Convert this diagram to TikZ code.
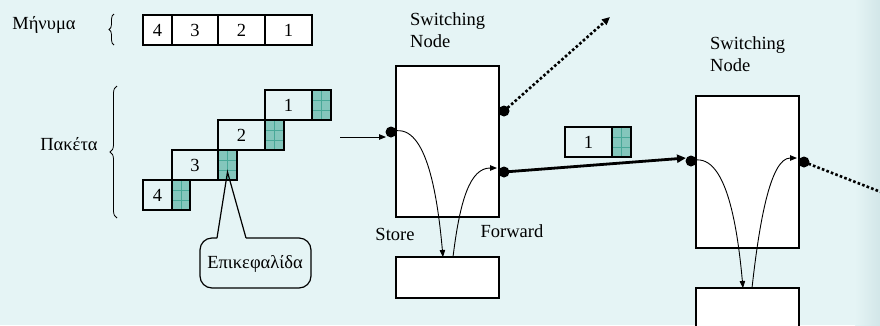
\documentclass[tikz,border=0pt]{standalone}
\usepackage{fontspec}
\setmainfont{Liberation Serif}
\usetikzlibrary{arrows.meta,calc,decorations.pathreplacing}
\definecolor{bg}{RGB}{229,244,245}
\definecolor{bgedge}{RGB}{210,230,232}
\definecolor{hdrfill}{RGB}{132,198,188}
\definecolor{hdrgrid}{RGB}{72,168,152}
\tikzset{
  txt/.style={font=\fontsize{18.5}{21}\selectfont, inner sep=0pt},
  cell/.style={draw, line width=1.2pt, anchor=north west, inner sep=0pt, outer sep=0pt,
    minimum height=30pt, font=\fontsize{18.5}{21}\selectfont},
  msgcell/.style={cell, fill=white},
  body/.style={cell, minimum width=47pt},
  hdr/.style={cell, fill=hdrfill, minimum width=19pt,
    path picture={
      \draw[hdrgrid, line width=0.8pt]
        (path picture bounding box.north) -- (path picture bounding box.south)
        ($(path picture bounding box.north west)!1/3!(path picture bounding box.south west)$) --
        ($(path picture bounding box.north east)!1/3!(path picture bounding box.south east)$)
        ($(path picture bounding box.north west)!2/3!(path picture bounding box.south west)$) --
        ($(path picture bounding box.north east)!2/3!(path picture bounding box.south east)$);
    }},
  switchbox/.style={draw, fill=white, line width=1.2pt, anchor=north west,
    minimum width=103pt, inner sep=0pt, outer sep=0pt},
  flow/.style={line width=0.9pt, -{Triangle[length=7pt,width=5.5pt]}},
  dotline/.style={line width=2.6pt, dash pattern=on 2.6pt off 2.2pt},
  bracket/.style={line width=0.8pt, decorate},
}
\begin{document}
\begin{tikzpicture}[x=1pt,y=-1pt]
\useasboundingbox (0,0) rectangle (880,325);
\fill[bg] (0,0) rectangle (880,325);
\shade[left color=bg, right color=bgedge] (855,0) rectangle (880,325);

% message
\node[txt, anchor=base] (msglabel) at (44,29) {Μήνυμα};
\draw[bracket, decoration={brace, amplitude=5pt}] (114,45) -- (114,14);
\node[msgcell, minimum width=29pt] (m4) at (143,15) {4};
\node[msgcell, minimum width=46pt] (m3) at (172,15) {3};
\node[msgcell, minimum width=47pt] (m2) at (218,15) {2};
\node[msgcell, minimum width=47pt] (m1) at (265,15) {1};

% packets
\node[txt, anchor=base] (pktlabel) at (69,150) {Πακέτα};
\draw[bracket, decoration={brace, amplitude=7pt}] (117,218) -- (117,86);
\node[body] (p1) at (265,90) {1};
\node[hdr] (h1) at (312,90) {};
\node[body] (p2) at (218,120) {2};
\node[hdr] (h2) at (265,120) {};
\node[body, minimum width=46pt] (p3) at (172,150) {3};
\node[hdr] (h3) at (218,150) {};
\node[body, minimum width=29pt] (p4) at (143,180) {4};
\node[hdr, minimum width=18pt] (h4) at (172,180) {};

% header callout
\node[txt, anchor=base] (callout) at (255,268) {Επικεφαλίδα};
\coordinate (tip) at ($(h3.center)+(0,7)$);
\coordinate (cl) at ($(callout.base)+(-38,-30)$);
\coordinate (cr) at ($(callout.base)+(-9,-30)$);
\draw[line width=1.2pt, rounded corners=12pt]
  (cl) -- ($(callout.base)+(-55,-30)$) -- ($(callout.base)+(-55,20)$)
  -- ($(callout.base)+(56,20)$) -- ($(callout.base)+(56,-30)$) -- (cr);
\draw[line width=1.2pt] (cl) -- (tip) -- (cr);

% first switching node
\node[txt, anchor=north west, align=left, font=\fontsize{18.5}{22.5}\selectfont] (sw1label) at (410,12) {Switching\\Node};
\node[switchbox, minimum height=151pt] (sw1) at (396,66) {};
\node[switchbox, minimum height=41pt] (st1) at (396,257) {};
\node[txt, anchor=base] (store) at (395,240) {Store};
\node[txt, anchor=base] (forward) at (512,237) {Forward};
\coordinate (in1) at (391,132);
\coordinate (o1a) at (504,111);
\coordinate (o1b) at (504,172);
\coordinate (src) at (340,137);
\coordinate (in1t) at (386,137);
\coordinate (s1in) at ($(st1.north west)+(47,0)$);
\coordinate (s1out) at ($(st1.north west)+(57,0)$);
\coordinate (f1) at (497,168);
\coordinate (away) at (610,17);

\draw[flow] (src) -- (in1t);
\draw[flow] (in1) .. controls (425,120) and (437,190) .. (s1in);
\draw[flow] (s1out) .. controls (460,200) and (470,168) .. (f1);
\draw[dotline, -{Triangle[length=8pt,width=7pt]}] (o1a) -- (away);

% packet on the link
\node[body] (pm) at (565,127) {1};
\node[hdr] (hm) at (612,127) {};

% second switching node
\node[txt, anchor=north west, align=left, font=\fontsize{18.5}{22.5}\selectfont] (sw2label) at (710,36) {Switching\\Node};
\node[switchbox, minimum height=152pt] (sw2) at (696,96) {};
\node[switchbox, minimum height=48pt] (st2) at (696,288) {};
\coordinate (in2) at (691,161);
\coordinate (in2t) at (686,158);
\coordinate (o2) at (804,162);
\coordinate (s2in) at ($(st2.north west)+(47,0)$);
\coordinate (s2out) at ($(st2.north west)+(56,0)$);
\coordinate (f2) at (797,158);
\coordinate (edge) at (886,194);

\draw[line width=2.8pt, -{Triangle[length=9pt,width=8pt]}] (o1b) -- (in2t);
\draw[flow] (in2) .. controls (725,150) and (737,222) .. (s2in);
\draw[flow] (s2out) .. controls (759,225) and (770,158) .. (f2);
\draw[dotline] (o2) -- (edge);

% ports
\foreach \p in {in1,o1a,o1b,in2,o2} \fill (\p) circle (5.5pt);
\end{tikzpicture}
\end{document}
